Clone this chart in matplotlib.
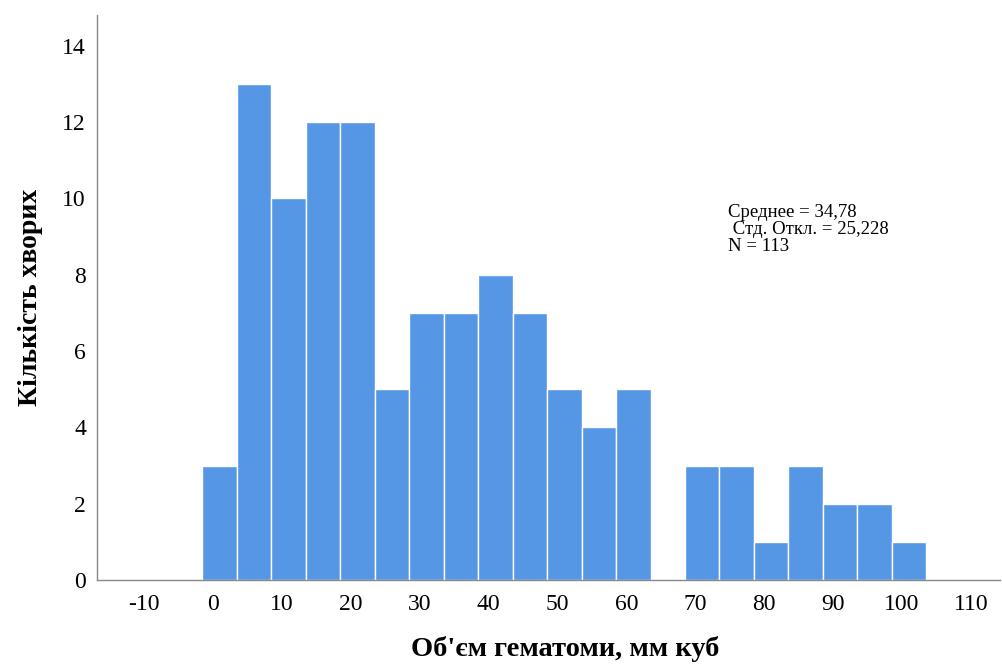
import numpy as np
import matplotlib.pyplot as plt

# Histogram of hematoma volume, bins of 5 mm^3
bin_start = -1.5
bin_width = 5
counts = [3, 13, 10, 12, 12, 5, 7, 7, 8, 7, 5, 4, 5, 0, 3, 3, 1, 3, 2, 2, 1]
x_ticks = list(range(-10, 111, 10))
y_ticks = list(range(0, 15, 2))
stats_text = "Среднее = 34,78\n Стд. Откл. = 25,228\nN = 113"

plt.rcParams['font.family'] = ['Liberation Serif', 'DejaVu Serif']
plt.rcParams['axes.unicode_minus'] = False

edges = bin_start + bin_width * np.arange(len(counts) + 1)

fig = plt.figure(figsize=(10.03, 6.64), dpi=100)
ax = fig.add_axes([0.0967, 0.1265, 0.9003, 0.8505])

ax.bar(edges[:-1], counts, width=bin_width, align='edge',
       color='#5596e5', edgecolor='white', linewidth=1.0)

ax.set_xlim(-16.8, 114.2)
ax.set_ylim(0, 14.8)
ax.set_xticks(x_ticks)
ax.set_yticks(y_ticks)
ax.tick_params(length=0, labelsize=17)
ax.tick_params(axis='x', pad=10)
ax.tick_params(axis='y', pad=8)

for side in ['top', 'right']:
    ax.spines[side].set_visible(False)
for side in ['left', 'bottom']:
    ax.spines[side].set_color('#888888')
    ax.spines[side].set_linewidth(1.0)

ax.set_xlabel("Об'єм гематоми, мм куб", fontsize=20.5, fontweight='bold')
ax.xaxis.label.set_va('baseline')
ax.xaxis.set_label_coords(0.518, -0.1345)
ax.set_ylabel("Кількість хворих", fontsize=20, fontweight='bold', labelpad=14)

ax.text(74.7, 9.86, stats_text, fontsize=13.5, va='top', ha='left', linespacing=1.02)

fig.savefig('out.png', dpi=100)
